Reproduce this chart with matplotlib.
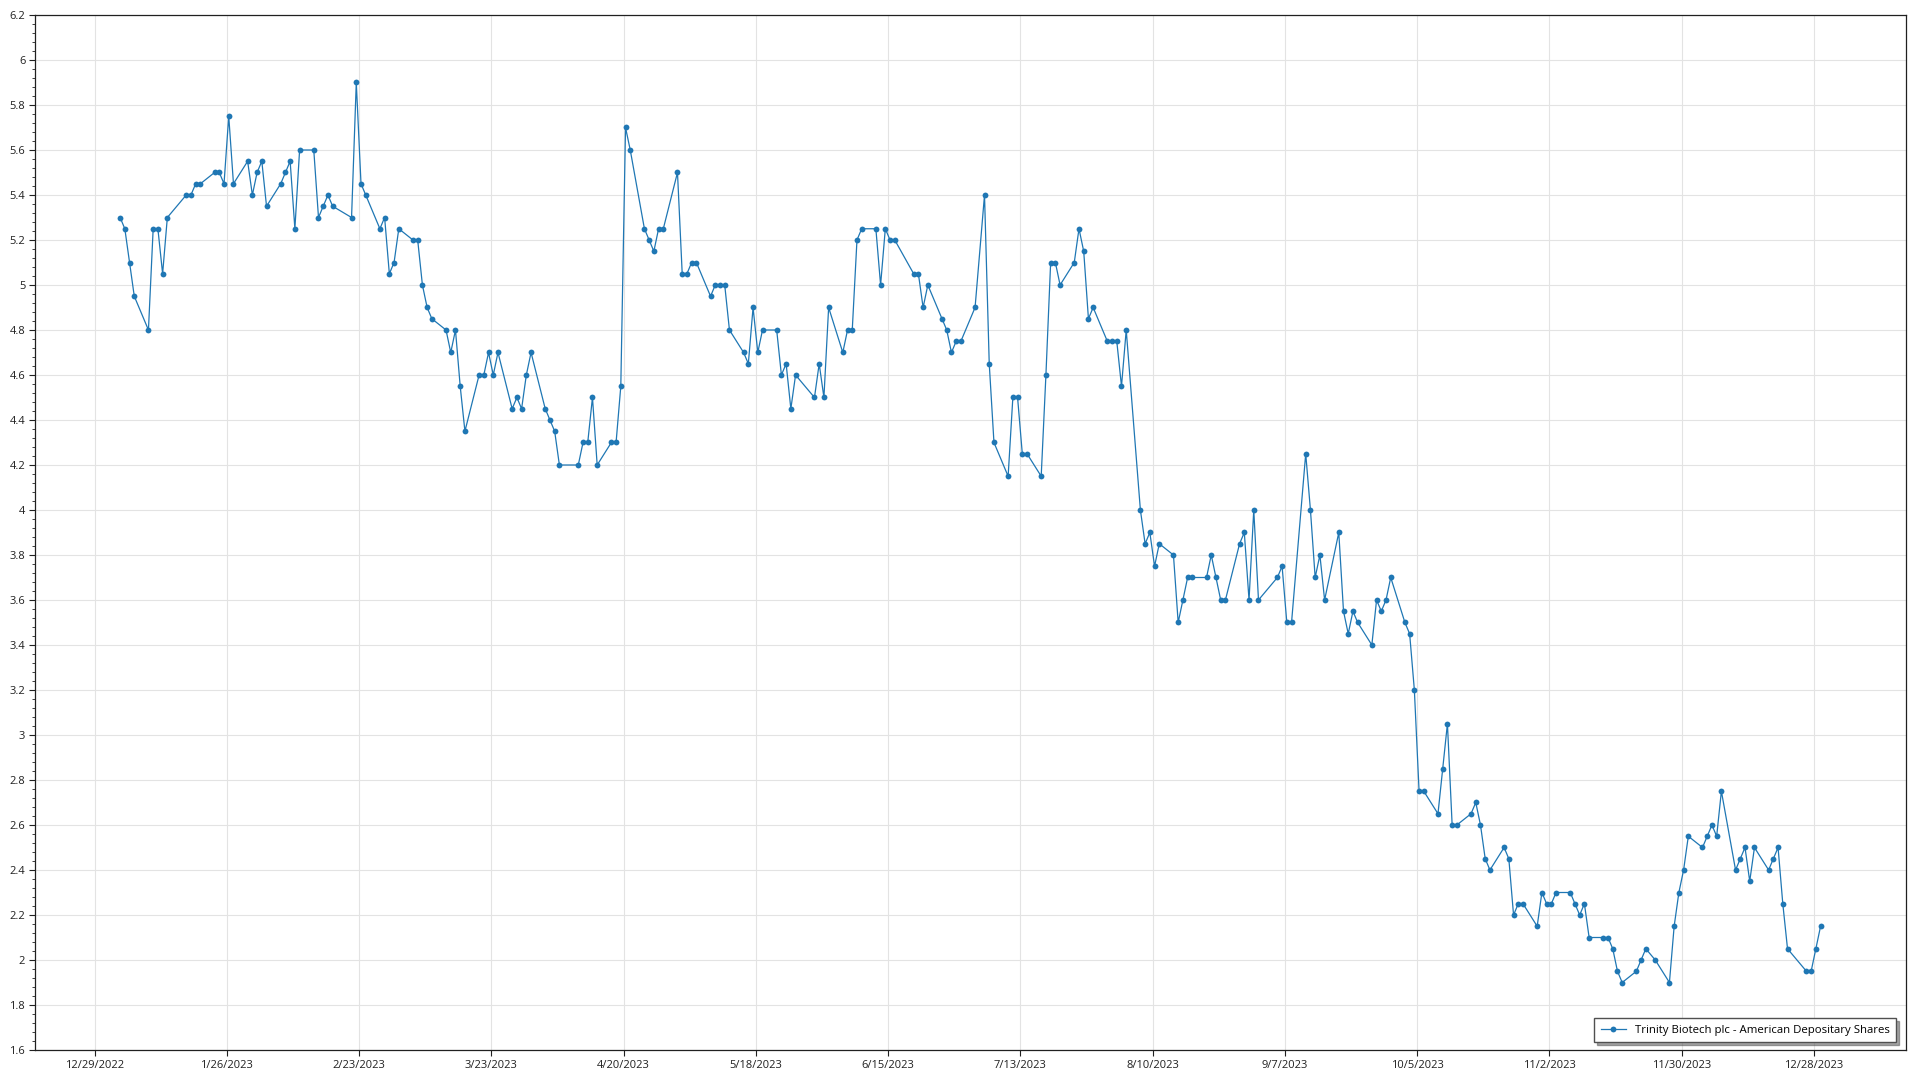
import matplotlib
matplotlib.use("Agg")
import matplotlib.pyplot as plt
import matplotlib.dates as mdates
from matplotlib.ticker import FixedLocator, AutoMinorLocator, FuncFormatter, MultipleLocator
import numpy as np
import pandas as pd

plt.rcParams['font.family'] = ['Open Sans', 'DejaVu Sans']

dates = [
    "2023-01-03", "2023-01-04", "2023-01-05", "2023-01-06", "2023-01-09", "2023-01-10", "2023-01-11", "2023-01-12",
    "2023-01-13", "2023-01-17", "2023-01-18", "2023-01-19", "2023-01-20", "2023-01-23", "2023-01-24", "2023-01-25",
    "2023-01-26", "2023-01-27", "2023-01-30", "2023-01-31", "2023-02-01", "2023-02-02", "2023-02-03", "2023-02-06",
    "2023-02-07", "2023-02-08", "2023-02-09", "2023-02-10", "2023-02-13", "2023-02-14", "2023-02-15", "2023-02-16",
    "2023-02-17", "2023-02-21", "2023-02-22", "2023-02-23", "2023-02-24", "2023-02-27", "2023-02-28", "2023-03-01",
    "2023-03-02", "2023-03-03", "2023-03-06", "2023-03-07", "2023-03-08", "2023-03-09", "2023-03-10", "2023-03-13",
    "2023-03-14", "2023-03-15", "2023-03-16", "2023-03-17", "2023-03-20", "2023-03-21", "2023-03-22", "2023-03-23",
    "2023-03-24", "2023-03-27", "2023-03-28", "2023-03-29", "2023-03-30", "2023-03-31", "2023-04-03", "2023-04-04",
    "2023-04-05", "2023-04-06", "2023-04-10", "2023-04-11", "2023-04-12", "2023-04-13", "2023-04-14", "2023-04-17",
    "2023-04-18", "2023-04-19", "2023-04-20", "2023-04-21", "2023-04-24", "2023-04-25", "2023-04-26", "2023-04-27",
    "2023-04-28", "2023-05-01", "2023-05-02", "2023-05-03", "2023-05-04", "2023-05-05", "2023-05-08", "2023-05-09",
    "2023-05-10", "2023-05-11", "2023-05-12", "2023-05-15", "2023-05-16", "2023-05-17", "2023-05-18", "2023-05-19",
    "2023-05-22", "2023-05-23", "2023-05-24", "2023-05-25", "2023-05-26", "2023-05-30", "2023-05-31", "2023-06-01",
    "2023-06-02", "2023-06-05", "2023-06-06", "2023-06-07", "2023-06-08", "2023-06-09", "2023-06-12", "2023-06-13",
    "2023-06-14", "2023-06-15", "2023-06-16", "2023-06-20", "2023-06-21", "2023-06-22", "2023-06-23", "2023-06-26",
    "2023-06-27", "2023-06-28", "2023-06-29", "2023-06-30", "2023-07-03", "2023-07-05", "2023-07-06", "2023-07-07",
    "2023-07-10", "2023-07-11", "2023-07-12", "2023-07-13", "2023-07-14", "2023-07-17", "2023-07-18", "2023-07-19",
    "2023-07-20", "2023-07-21", "2023-07-24", "2023-07-25", "2023-07-26", "2023-07-27", "2023-07-28", "2023-07-31",
    "2023-08-01", "2023-08-02", "2023-08-03", "2023-08-04", "2023-08-07", "2023-08-08", "2023-08-09", "2023-08-10",
    "2023-08-11", "2023-08-14", "2023-08-15", "2023-08-16", "2023-08-17", "2023-08-18", "2023-08-21", "2023-08-22",
    "2023-08-23", "2023-08-24", "2023-08-25", "2023-08-28", "2023-08-29", "2023-08-30", "2023-08-31", "2023-09-01",
    "2023-09-05", "2023-09-06", "2023-09-07", "2023-09-08", "2023-09-11", "2023-09-12", "2023-09-13", "2023-09-14",
    "2023-09-15", "2023-09-18", "2023-09-19", "2023-09-20", "2023-09-21", "2023-09-22", "2023-09-25", "2023-09-26",
    "2023-09-27", "2023-09-28", "2023-09-29", "2023-10-02", "2023-10-03", "2023-10-04", "2023-10-05", "2023-10-06",
    "2023-10-09", "2023-10-10", "2023-10-11", "2023-10-12", "2023-10-13", "2023-10-16", "2023-10-17", "2023-10-18",
    "2023-10-19", "2023-10-20", "2023-10-23", "2023-10-24", "2023-10-25", "2023-10-26", "2023-10-27", "2023-10-30",
    "2023-10-31", "2023-11-01", "2023-11-02", "2023-11-03", "2023-11-06", "2023-11-07", "2023-11-08", "2023-11-09",
    "2023-11-10", "2023-11-13", "2023-11-14", "2023-11-15", "2023-11-16", "2023-11-17", "2023-11-20", "2023-11-21",
    "2023-11-22", "2023-11-24", "2023-11-27", "2023-11-28", "2023-11-29", "2023-11-30", "2023-12-01", "2023-12-04",
    "2023-12-05", "2023-12-06", "2023-12-07", "2023-12-08", "2023-12-11", "2023-12-12", "2023-12-13", "2023-12-14",
    "2023-12-15", "2023-12-18", "2023-12-19", "2023-12-20", "2023-12-21", "2023-12-22", "2023-12-26", "2023-12-27",
    "2023-12-28", "2023-12-29",
]

prices = [
    5.30, 5.25, 5.10, 4.95, 4.80, 5.25, 5.25, 5.05,
    5.30, 5.40, 5.40, 5.45, 5.45, 5.50, 5.50, 5.45,
    5.75, 5.45, 5.55, 5.40, 5.50, 5.55, 5.35, 5.45,
    5.50, 5.55, 5.25, 5.60, 5.60, 5.30, 5.35, 5.40,
    5.35, 5.30, 5.90, 5.45, 5.40, 5.25, 5.30, 5.05,
    5.10, 5.25, 5.20, 5.20, 5.00, 4.90, 4.85, 4.80,
    4.70, 4.80, 4.55, 4.35, 4.60, 4.60, 4.70, 4.60,
    4.70, 4.45, 4.50, 4.45, 4.60, 4.70, 4.45, 4.40,
    4.35, 4.20, 4.20, 4.30, 4.30, 4.50, 4.20, 4.30,
    4.30, 4.55, 5.70, 5.60, 5.25, 5.20, 5.15, 5.25,
    5.25, 5.50, 5.05, 5.05, 5.10, 5.10, 4.95, 5.00,
    5.00, 5.00, 4.80, 4.70, 4.65, 4.90, 4.70, 4.80,
    4.80, 4.60, 4.65, 4.45, 4.60, 4.50, 4.65, 4.50,
    4.90, 4.70, 4.80, 4.80, 5.20, 5.25, 5.25, 5.00,
    5.25, 5.20, 5.20, 5.05, 5.05, 4.90, 5.00, 4.85,
    4.80, 4.70, 4.75, 4.75, 4.90, 5.40, 4.65, 4.30,
    4.15, 4.50, 4.50, 4.25, 4.25, 4.15, 4.60, 5.10,
    5.10, 5.00, 5.10, 5.25, 5.15, 4.85, 4.90, 4.75,
    4.75, 4.75, 4.55, 4.80, 4.00, 3.85, 3.90, 3.75,
    3.85, 3.80, 3.50, 3.60, 3.70, 3.70, 3.70, 3.80,
    3.70, 3.60, 3.60, 3.85, 3.90, 3.60, 4.00, 3.60,
    3.70, 3.75, 3.50, 3.50, 4.25, 4.00, 3.70, 3.80,
    3.60, 3.90, 3.55, 3.45, 3.55, 3.50, 3.40, 3.60,
    3.55, 3.60, 3.70, 3.50, 3.45, 3.20, 2.75, 2.75,
    2.65, 2.85, 3.05, 2.60, 2.60, 2.65, 2.70, 2.60,
    2.45, 2.40, 2.50, 2.45, 2.20, 2.25, 2.25, 2.15,
    2.30, 2.25, 2.25, 2.30, 2.30, 2.25, 2.20, 2.25,
    2.10, 2.10, 2.10, 2.05, 1.95, 1.90, 1.95, 2.00,
    2.05, 2.00, 1.90, 2.15, 2.30, 2.40, 2.55, 2.50,
    2.55, 2.60, 2.55, 2.75, 2.40, 2.45, 2.50, 2.35,
    2.50, 2.40, 2.45, 2.50, 2.25, 2.05, 1.95, 1.95,
    2.05, 2.15,
]

series_label = "Trinity Biotech plc - American Depositary Shares"
x_tick_start = "2022-12-29"
x_tick_step_days = 28
x_tick_count = 14
y_min, y_max, y_step = 1.6, 6.2, 0.2

# the source plots each trading day at a time stamp part-way through the day
x = pd.to_datetime(dates) + pd.Timedelta(hours=10)

fig = plt.figure(figsize=(19.2, 10.8), dpi=100)
ax = fig.add_axes([35 / 1920, 1 - 1050 / 1080, 1871 / 1920, 1035 / 1080])

ax.plot(x, prices, color="#1f77b4", linewidth=0.9, marker="o", markersize=4.2,
        markeredgewidth=0, label=series_label, zorder=3)

start = pd.Timestamp(x_tick_start)
ticks = [start + pd.Timedelta(days=x_tick_step_days * k) for k in range(x_tick_count)]
ax.set_xlim(start - pd.Timedelta(days=12.6), start + pd.Timedelta(days=383.5))
ax.xaxis.set_major_locator(FixedLocator(mdates.date2num(ticks)))
ax.xaxis.set_major_formatter(FuncFormatter(
    lambda v, p: f"{mdates.num2date(v).month}/{mdates.num2date(v).day}/{mdates.num2date(v).year}"))

ax.set_ylim(y_min, y_max)
ax.yaxis.set_major_locator(MultipleLocator(y_step))
ax.yaxis.set_minor_locator(AutoMinorLocator(5))
ax.yaxis.set_major_formatter(FuncFormatter(lambda v, p: f"{round(v, 2):g}"))

ax.grid(True, which="major", color="#e3e3e3", linewidth=0.8, zorder=0)
ax.set_axisbelow(True)

for s in ax.spines.values():
    s.set_color("#202020")
    s.set_linewidth(0.9)

ax.tick_params(axis="both", which="major", direction="out", length=4, width=0.8,
               labelsize=8, colors="#202020", pad=3)
ax.tick_params(axis="y", which="minor", direction="out", length=2, width=0.6, colors="#202020")

leg = ax.legend(loc="lower right", bbox_to_anchor=(1 - 10 / 1871, 8 / 1035), borderaxespad=0,
                fontsize=8.2, frameon=True, fancybox=False, shadow=True,
                handlelength=2.2, borderpad=0.55, edgecolor="#505050")
leg.get_frame().set_linewidth(1.0)

fig.savefig("out.png", dpi=100)
